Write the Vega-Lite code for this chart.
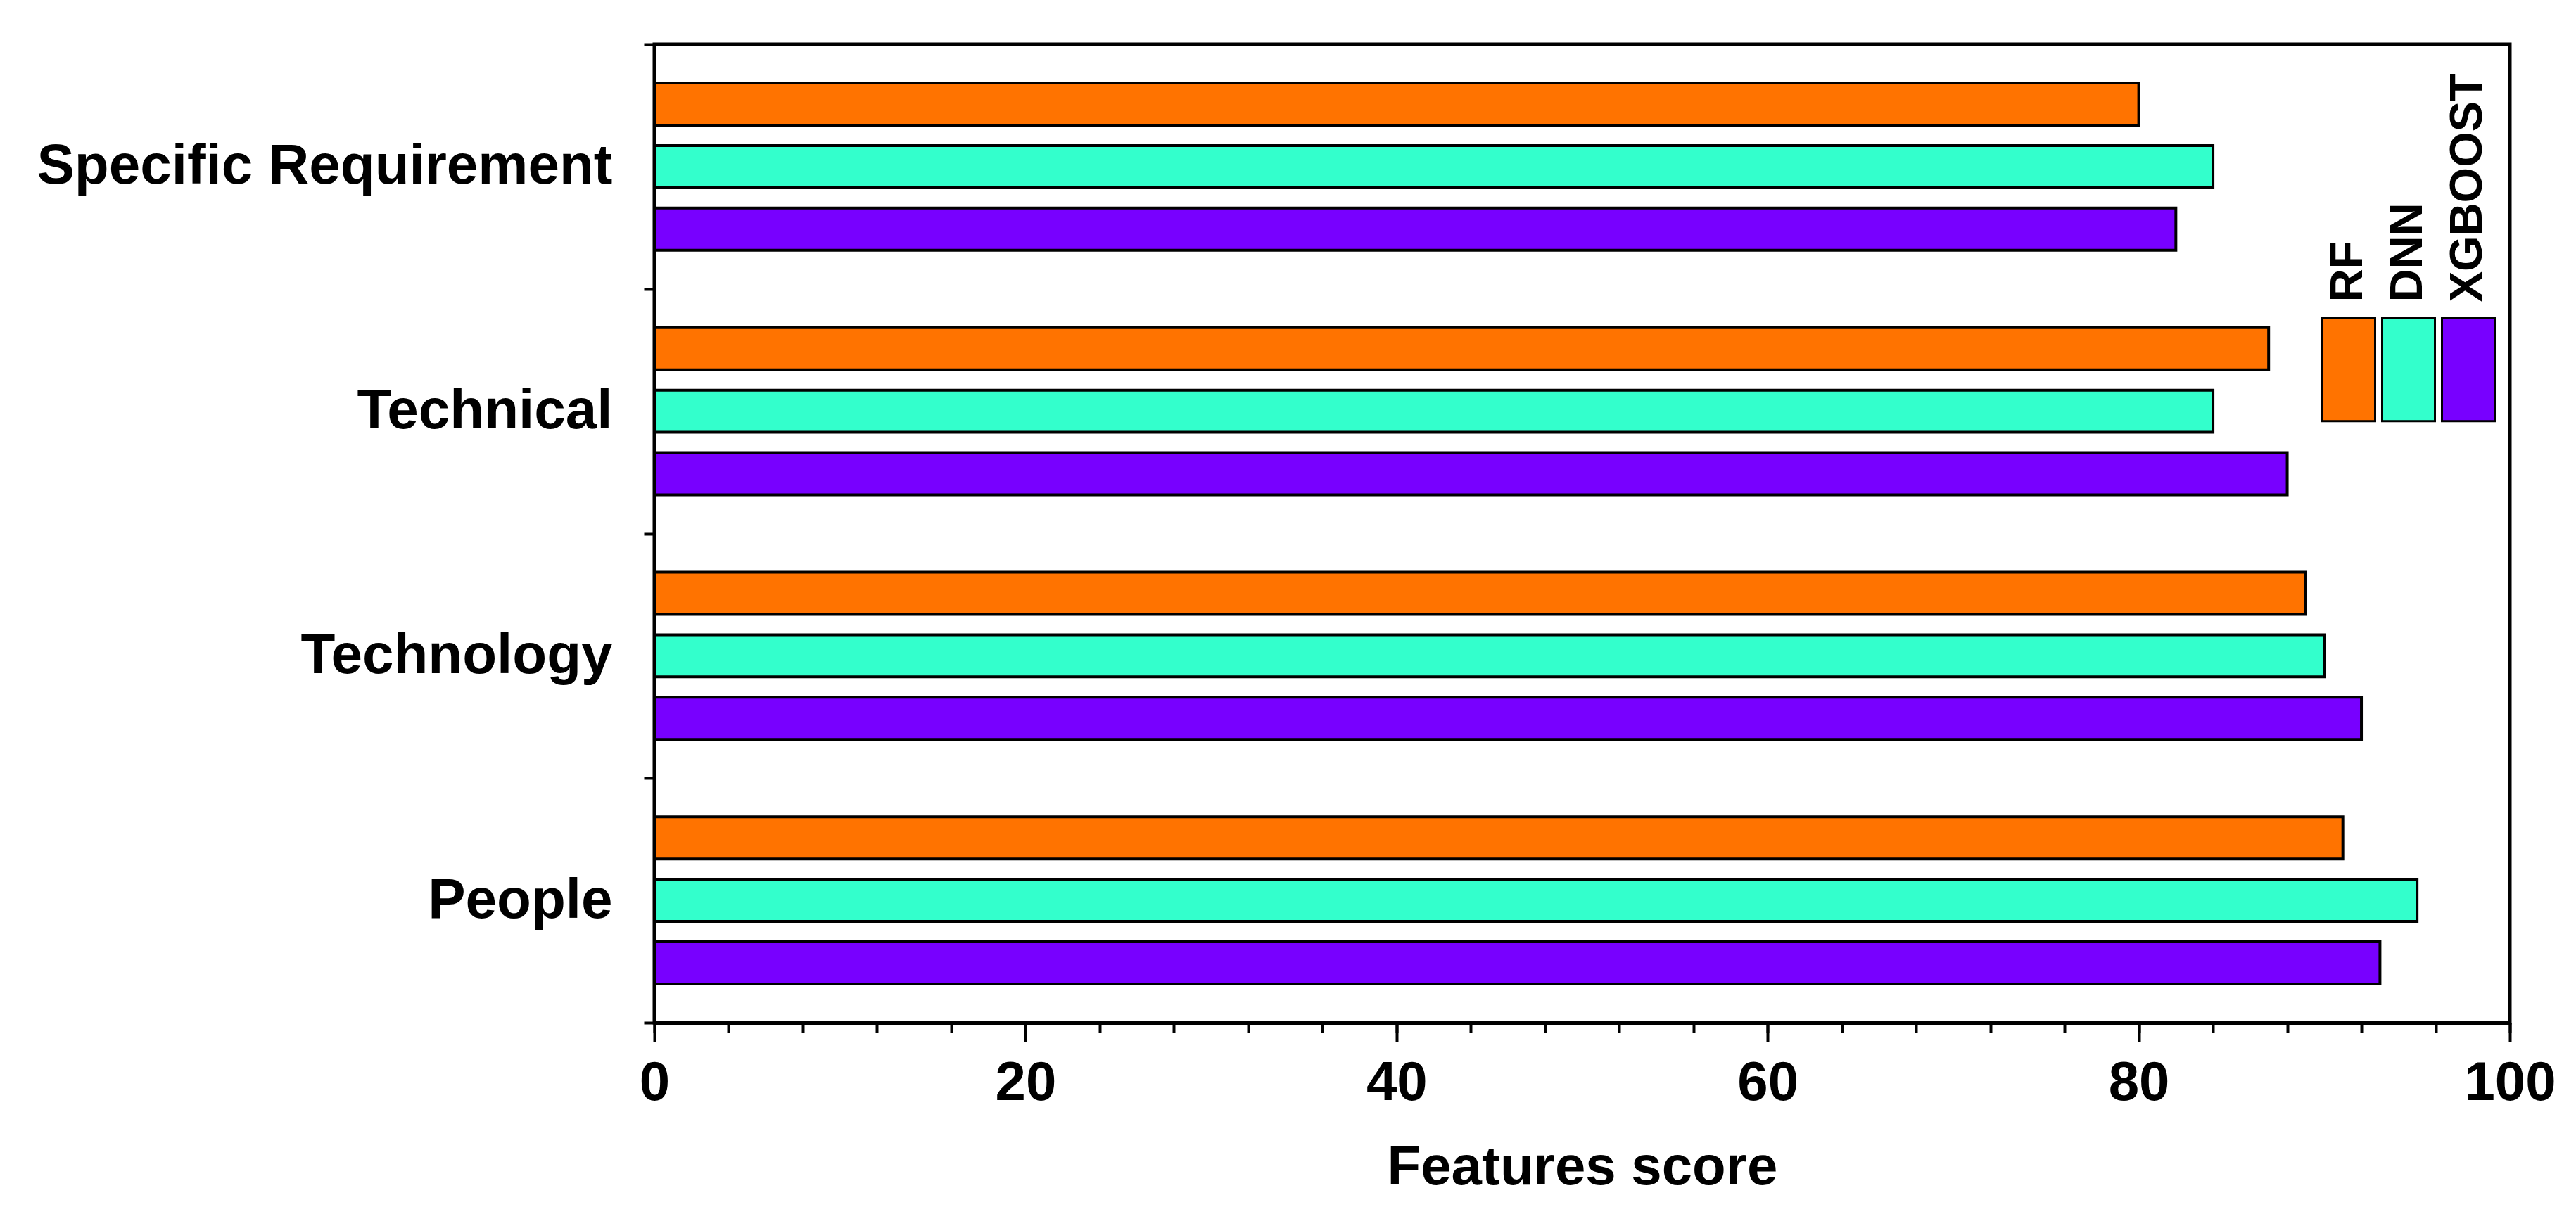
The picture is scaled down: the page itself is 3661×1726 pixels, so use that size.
{
  "$schema": "https://vega.github.io/schema/vega-lite/v6.json",
  "width": 2637,
  "height": 1391,
  "autosize": {"type": "none"},
  "padding": {"left": 930, "top": 63, "right": 94, "bottom": 272},
  "background": "white",
  "config": {
    "font": "Liberation Sans",
    "view": {"stroke": "black", "strokeWidth": 5},
    "axis": {"grid": false, "domainColor": "black", "tickColor": "black", "labelColor": "black", "titleColor": "black", "labelFont": "Liberation Sans", "titleFont": "Liberation Sans"}
  },
  "data": {
    "values": [
      {"feature": "Specific Requirement", "model": "RF", "score": 80},
      {"feature": "Specific Requirement", "model": "DNN", "score": 84},
      {"feature": "Specific Requirement", "model": "XGBOOST", "score": 82},
      {"feature": "Technical", "model": "RF", "score": 87},
      {"feature": "Technical", "model": "DNN", "score": 84},
      {"feature": "Technical", "model": "XGBOOST", "score": 88},
      {"feature": "Technology", "model": "RF", "score": 89},
      {"feature": "Technology", "model": "DNN", "score": 90},
      {"feature": "Technology", "model": "XGBOOST", "score": 92},
      {"feature": "People", "model": "RF", "score": 91},
      {"feature": "People", "model": "DNN", "score": 95},
      {"feature": "People", "model": "XGBOOST", "score": 93}
    ]
  },
  "layer": [
    {
      "mark": {"type": "bar", "stroke": "black", "strokeWidth": 4},
      "encoding": {
        "y": {
          "field": "feature", "type": "nominal",
          "sort": ["Specific Requirement", "Technical", "Technology", "People"],
          "scale": {"paddingInner": 0, "paddingOuter": 0},
          "axis": {"title": null, "orient": "left", "tickBand": "extent", "tickSize": 15, "tickWidth": 4, "domainWidth": 5, "labelFontSize": 80, "labelFontWeight": "bold", "labelPadding": 45, "labelLimit": 0}
        },
        "yOffset": {
          "field": "model", "type": "nominal",
          "sort": ["RF", "DNN", "XGBOOST"],
          "scale": {"paddingInner": 0.326, "paddingOuter": 0.617}
        },
        "x": {
          "field": "score", "type": "quantitative",
          "scale": {"domain": [0, 100], "nice": false},
          "axis": {"orient": "bottom", "title": "Features score", "values": [0, 20, 40, 60, 80, 100], "tickSize": 27, "tickWidth": 4, "domainWidth": 5, "labelFontSize": 78, "labelFontWeight": "bold", "labelPadding": 20, "labelFlush": false, "labelOverlap": false, "titleFontSize": 78, "titleFontWeight": "bold", "titlePadding": 42}
        },
        "color": {
          "field": "model", "type": "nominal",
          "scale": {"domain": ["RF", "DNN", "XGBOOST"], "range": ["#FF7300", "#33FFCC", "#7800FF"]},
          "legend": {
            "title": null, "orient": "none", "legendX": 2369, "legendY": 423, "direction": "horizontal", "padding": 0,
            "symbolType": "M-1,-1.96L1,-1.96L1,1.96L-1,1.96Z", "symbolSize": 5625,
            "symbolStrokeColor": "black", "symbolStrokeWidth": 3, "symbolOpacity": 1,
            "labelFontSize": 65, "labelFontWeight": "bold", "labelFont": "Liberation Sans", "labelColor": "black",
            "labelAlign": "left", "labelBaseline": "middle", "labelOffset": 0, "labelLimit": 0,
            "columnPadding": -3,
            "encoding": {"labels": {"angle": {"value": -90}, "dx": {"value": 96}, "dy": {"value": -40}}}
          }
        }
      }
    },
    {
      "mark": {"type": "bar", "opacity": 0},
      "encoding": {
        "x": {
          "field": "score", "type": "quantitative",
          "axis": {"orient": "bottom", "title": null, "values": [0, 4, 8, 12, 16, 20, 24, 28, 32, 36, 40, 44, 48, 52, 56, 60, 64, 68, 72, 76, 80, 84, 88, 92, 96, 100], "tickSize": 14, "tickWidth": 4, "domain": false, "labels": false}
        }
      }
    }
  ],
  "resolve": {"axis": {"x": "independent"}}
}
